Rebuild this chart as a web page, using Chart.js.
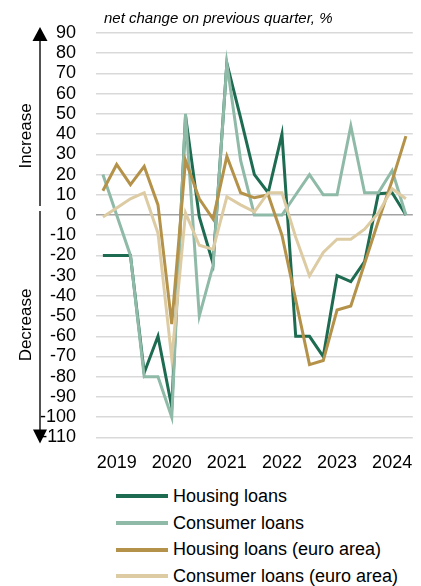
<!DOCTYPE html>
<html lang="en">
<head>
  <meta charset="UTF-8">
  <title>Credit standards - net change on previous quarter</title>
  <script src="https://cdn.jsdelivr.net/npm/chart.js@4"></script>
  <style>
    body {
      margin: 0;
      background: #fff;
      font-family: "Liberation Sans", Arial, sans-serif;
    }
    #wrap {
      position: relative;
      width: 421px;
      height: 495px;
    }
    #legend {
      list-style: none;
      margin: -12px 0 0 116px;
      padding: 0;
    }
    #legend li {
      display: flex;
      align-items: center;
      height: 26.7px;
      font-size: 18px;
      white-space: nowrap;
      color: #000;
    }
    #legend span {
      display: inline-block;
      flex: none;
      width: 52px;
      height: 4px;
      margin-right: 5px;
    }
  </style>
</head>
<body>
  <div id="wrap"><canvas id="myChart"></canvas></div>
  <ul id="legend"></ul>

  <script>
    // quarters 2019Q1 .. 2024Q3
    const quarters = ['2019Q1', '2019Q2', '2019Q3', '2019Q4',
                      '2020Q1', '2020Q2', '2020Q3', '2020Q4',
                      '2021Q1', '2021Q2', '2021Q3', '2021Q4',
                      '2022Q1', '2022Q2', '2022Q3', '2022Q4',
                      '2023Q1', '2023Q2', '2023Q3', '2023Q4',
                      '2024Q1', '2024Q2', '2024Q3'];

    const seriesNames = ['Housing loans', 'Consumer loans', 'Housing loans (euro area)', 'Consumer loans (euro area)'];

    const housing    = [-20, -20, -20, -78, -60, -95, 49, -1, -24, 75, 48, 20, 11, 40, -60, -60, -70, -30, -33, -23, 10.5, 11, 0];
    const consumer   = [20, 0, -20, -80, -80, -100, 50, -50, -25, 75, 27, 0, 0, 0, 10, 20, 10, 10, 44, 11, 11, 22, 0];
    const housingEA  = [12, 25, 15, 24, 5, -54, 27, 8, -2, 29, 11, 8.5, 10, -10, -42, -74, -72, -47, -45, -24, -3, 17, 39];
    const consumerEA = [-1, 3.5, 8, 11, -9, -71, 1, -15, -17, 9, 5, 1.5, 11, 11, -11, -30, -18.5, -12, -12, -7, 1, 13, 8];

    const colors = ['#1d6b50', '#8fbaa8', '#b59249', '#ddcca3'];

    const FONT = '"Liberation Sans", Arial, sans-serif';

    // arrows, Increase/Decrease and the subtitle
    const sidePlugin = {
      id: 'side',
      afterDraw(chart) {
        const ctx = chart.ctx;
        const y = chart.scales.y;
        const top = y.getPixelForValue(90);
        const bottom = y.getPixelForValue(-110);
        const zero = y.getPixelForValue(0);
        const ax = 40;

        ctx.save();
        ctx.strokeStyle = '#1a1a1a';
        ctx.fillStyle = '#000';
        ctx.lineWidth = 1.5;
        ctx.beginPath();
        ctx.moveTo(ax, top + 6);
        ctx.lineTo(ax, zero - 9);
        ctx.moveTo(ax, zero - 4);
        ctx.lineTo(ax, bottom - 6);
        ctx.stroke();

        ctx.beginPath();
        ctx.moveTo(ax, top - 6);
        ctx.lineTo(ax - 7.5, top + 8);
        ctx.lineTo(ax + 7.5, top + 8);
        ctx.closePath();
        ctx.fill();

        ctx.beginPath();
        ctx.moveTo(ax, bottom + 6);
        ctx.lineTo(ax - 7, bottom - 8);
        ctx.lineTo(ax + 7, bottom - 8);
        ctx.closePath();
        ctx.fill();

        ctx.font = '17px ' + FONT;
        ctx.textAlign = 'center';
        ctx.textBaseline = 'middle';
        ctx.translate(26, 0);
        ctx.rotate(-Math.PI / 2);
        ctx.fillText('Increase', -(zero - 79), 0);
        ctx.fillText('Decrease', -(zero + 110), 0);
        ctx.restore();

        ctx.save();
        ctx.font = 'italic 15px ' + FONT;
        ctx.fillStyle = '#000';
        ctx.textAlign = 'left';
        ctx.textBaseline = 'alphabetic';
        ctx.fillText('net change on previous quarter, %', chart.chartArea.left + 8, top - 10.5);
        ctx.restore();
      }
    };

    const ctx = document.getElementById('myChart').getContext('2d');

    const myChart = new Chart(ctx, {
      type: 'line',
      data: {
        labels: quarters,
        datasets: [housing, consumer, housingEA, consumerEA].map((d, i) => ({
          label: seriesNames[i],
          data: d,
          borderColor: colors[i],
          backgroundColor: colors[i],
          borderWidth: 3,
          pointRadius: 0,
          tension: 0,
          order: 3 - i   // later series on top
        }))
      },
      options: {
        responsive: true,
        maintainAspectRatio: false,
        animation: false,
        layout: {
          padding: { top: 33, right: 4, bottom: 6, left: 0 }
        },
        plugins: {
          legend: { display: false },
          tooltip: { enabled: false }
        },
        scales: {
          x: {
            offset: true,
            grid: { display: false, drawTicks: false },
            border: { display: false },
            ticks: {
              autoSkip: false,
              maxRotation: 0,
              padding: 15,
              color: '#000',
              font: { family: FONT, size: 18 },
              callback: function(val) {
                const q = quarters[val];
                return q.endsWith('Q2') ? q.slice(0, 4) : '';
              }
            }
          },
          y: {
            min: -110,
            max: 90,
            afterFit: function(scale) { scale.width = 96; },
            grid: {
              drawTicks: false,
              lineWidth: 1.5,
              color: c => c.tick && c.tick.value === 0 ? '#a3a3a3' : '#d9d9d9'
            },
            border: { display: false },
            ticks: {
              stepSize: 10,
              autoSkip: false,
              padding: 20,
              color: '#000',
              font: { family: FONT, size: 18 }
            }
          }
        }
      },
      plugins: [sidePlugin]
    });

    // legend as one column below the chart
    const legend = document.getElementById('legend');
    myChart.data.datasets.forEach(ds => {
      const li = document.createElement('li');
      const sw = document.createElement('span');
      sw.style.background = ds.borderColor;
      li.appendChild(sw);
      li.appendChild(document.createTextNode(ds.label));
      legend.appendChild(li);
    });
  </script>
</body>
</html>
